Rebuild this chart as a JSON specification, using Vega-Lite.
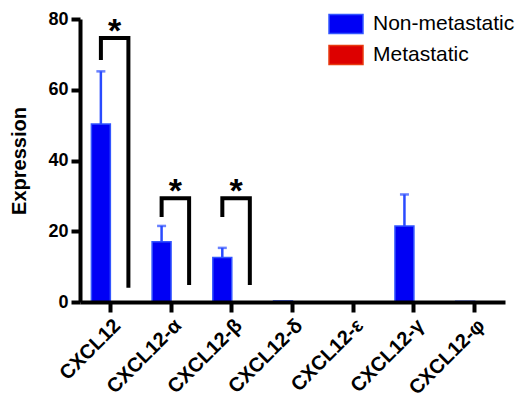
{
  "$schema": "https://vega.github.io/schema/vega-lite/v6.json",
  "width": 425,
  "height": 283,
  "autosize": {"type": "none"},
  "padding": {"left": 80, "top": 19, "right": 25, "bottom": 96},
  "config": {"view": {"stroke": null}, "font": "Liberation Sans"},
  "datasets": {
    "bars": [
      {"gene": "CXCL12", "group": "Non-metastatic", "mean": 50.3, "upper": 65.2},
      {"gene": "CXCL12", "group": "Metastatic", "mean": 0, "upper": 0},
      {"gene": "CXCL12-α", "group": "Non-metastatic", "mean": 17.0, "upper": 21.5},
      {"gene": "CXCL12-α", "group": "Metastatic", "mean": 0, "upper": 0},
      {"gene": "CXCL12-β", "group": "Non-metastatic", "mean": 12.6, "upper": 15.3},
      {"gene": "CXCL12-β", "group": "Metastatic", "mean": 0, "upper": 0},
      {"gene": "CXCL12-δ", "group": "Non-metastatic", "mean": 0.3, "upper": 0.3},
      {"gene": "CXCL12-δ", "group": "Metastatic", "mean": 0, "upper": 0},
      {"gene": "CXCL12-ε", "group": "Non-metastatic", "mean": 0, "upper": 0},
      {"gene": "CXCL12-ε", "group": "Metastatic", "mean": 0, "upper": 0},
      {"gene": "CXCL12-γ", "group": "Non-metastatic", "mean": 21.5, "upper": 30.4},
      {"gene": "CXCL12-γ", "group": "Metastatic", "mean": 0, "upper": 0},
      {"gene": "CXCL12-φ", "group": "Non-metastatic", "mean": 0.2, "upper": 0.2},
      {"gene": "CXCL12-φ", "group": "Metastatic", "mean": 0, "upper": 0}
    ],
    "brackets": [
      {"gene": "CXCL12", "pos": "left", "y": 68.4, "k": 1},
      {"gene": "CXCL12", "pos": "left", "y": 74.6, "k": 2},
      {"gene": "CXCL12", "pos": "right", "y": 74.6, "k": 3},
      {"gene": "CXCL12", "pos": "right", "y": 4, "k": 4},
      {"gene": "CXCL12-α", "pos": "left", "y": 24, "k": 1},
      {"gene": "CXCL12-α", "pos": "left", "y": 29.3, "k": 2},
      {"gene": "CXCL12-α", "pos": "right", "y": 29.3, "k": 3},
      {"gene": "CXCL12-α", "pos": "right", "y": 4.8, "k": 4},
      {"gene": "CXCL12-β", "pos": "left", "y": 24, "k": 1},
      {"gene": "CXCL12-β", "pos": "left", "y": 29.3, "k": 2},
      {"gene": "CXCL12-β", "pos": "right", "y": 29.3, "k": 3},
      {"gene": "CXCL12-β", "pos": "right", "y": 4.8, "k": 4}
    ],
    "stars": [
      {"gene": "CXCL12", "pos": "mid", "y": 74.6, "label": "*"},
      {"gene": "CXCL12-α", "pos": "mid", "y": 29.3, "label": "*"},
      {"gene": "CXCL12-β", "pos": "mid", "y": 29.3, "label": "*"}
    ]
  },
  "layer": [
    {
      "data": {"name": "bars"},
      "mark": {"type": "bar", "strokeWidth": 1.5},
      "encoding": {
        "x": {
          "field": "gene", "type": "nominal",
          "sort": ["CXCL12", "CXCL12-α", "CXCL12-β", "CXCL12-δ", "CXCL12-ε", "CXCL12-γ", "CXCL12-φ"],
          "scale": {"paddingInner": 0, "paddingOuter": 0},
          "axis": {
            "title": null, "zindex": 1,
            "domainColor": "black", "domainWidth": 4,
            "tickColor": "black", "tickWidth": 4, "tickSize": 10,
            "labelAngle": -45, "labelAlign": "right", "labelBaseline": "top",
            "labelFont": "Liberation Sans", "labelFontWeight": "bold", "labelFontSize": 20,
            "labelColor": "black", "labelPadding": 3
          }
        },
        "xOffset": {
          "field": "group", "type": "nominal",
          "scale": {"domain": ["Non-metastatic", "Metastatic"], "paddingInner": 0, "paddingOuter": 0.6}
        },
        "y": {
          "field": "mean", "type": "quantitative",
          "scale": {"domain": [0, 80], "nice": false},
          "axis": {
            "title": "Expression", "zindex": 1, "grid": false,
            "values": [0, 20, 40, 60, 80],
            "domainColor": "black", "domainWidth": 4,
            "tickColor": "black", "tickWidth": 4, "tickSize": 9,
            "labelFont": "Liberation Sans", "labelFontWeight": "bold", "labelFontSize": 18,
            "labelColor": "black", "labelPadding": 3,
            "titleFont": "Liberation Sans", "titleFontWeight": "bold", "titleFontSize": 20,
            "titleColor": "black", "titlePadding": 18
          }
        },
        "fill": {
          "field": "group", "type": "nominal",
          "scale": {"domain": ["Non-metastatic", "Metastatic"], "range": ["#0000f5", "#dd0000"]},
          "legend": {
            "title": null, "orient": "none", "legendX": 248, "legendY": -13,
            "symbolType": "M-1,-0.56L1,-0.56L1,0.56L-1,0.56Z", "symbolSize": 1156,
            "symbolStrokeWidth": 1.5, "labelFont": "Liberation Sans", "labelFontSize": 21,
            "labelColor": "black", "labelOffset": 9, "rowPadding": 0
          }
        },
        "stroke": {
          "field": "group", "type": "nominal",
          "scale": {"domain": ["Non-metastatic", "Metastatic"], "range": ["#3355ff", "#e83a10"]},
          "legend": {
            "title": null, "orient": "none", "legendX": 248, "legendY": -13,
            "symbolType": "M-1,-0.56L1,-0.56L1,0.56L-1,0.56Z", "symbolSize": 1156,
            "symbolStrokeWidth": 1.5, "labelFont": "Liberation Sans", "labelFontSize": 21,
            "labelColor": "black", "labelOffset": 9, "rowPadding": 0
          }
        }
      }
    },
    {
      "data": {"name": "bars"},
      "transform": [{"filter": "datum.upper > datum.mean"}],
      "mark": {"type": "rule", "color": "#2a4bff", "strokeWidth": 2.5},
      "encoding": {
        "x": {"field": "gene", "type": "nominal", "sort": ["CXCL12", "CXCL12-α", "CXCL12-β", "CXCL12-δ", "CXCL12-ε", "CXCL12-γ", "CXCL12-φ"]},
        "xOffset": {"field": "group", "type": "nominal", "scale": {"domain": ["Non-metastatic", "Metastatic"], "paddingInner": 0, "paddingOuter": 0.6}},
        "y": {"field": "mean", "type": "quantitative"},
        "y2": {"field": "upper"}
      }
    },
    {
      "data": {"name": "bars"},
      "transform": [{"filter": "datum.upper > datum.mean"}],
      "mark": {"type": "tick", "color": "#2a4bff", "size": 9, "thickness": 2.5, "orient": "horizontal"},
      "encoding": {
        "x": {"field": "gene", "type": "nominal", "sort": ["CXCL12", "CXCL12-α", "CXCL12-β", "CXCL12-δ", "CXCL12-ε", "CXCL12-γ", "CXCL12-φ"]},
        "xOffset": {"field": "group", "type": "nominal", "scale": {"domain": ["Non-metastatic", "Metastatic"], "paddingInner": 0, "paddingOuter": 0.6}},
        "y": {"field": "upper", "type": "quantitative"}
      }
    },
    {
      "data": {"name": "brackets"},
      "mark": {"type": "line", "color": "black", "strokeWidth": 4, "strokeJoin": "miter", "strokeCap": "butt"},
      "encoding": {
        "x": {"field": "gene", "type": "nominal", "sort": ["CXCL12", "CXCL12-α", "CXCL12-β", "CXCL12-δ", "CXCL12-ε", "CXCL12-γ", "CXCL12-φ"]},
        "xOffset": {"field": "pos", "type": "nominal", "scale": {"type": "point", "domain": ["left", "mid", "right"], "range": [20.9, 48.4], "padding": 0}},
        "y": {"field": "y", "type": "quantitative"},
        "order": {"field": "k", "type": "quantitative"},
        "detail": {"field": "gene", "type": "nominal"}
      }
    },
    {
      "data": {"name": "stars"},
      "mark": {"type": "text", "color": "black", "font": "Liberation Sans", "fontWeight": "bold", "fontSize": 34, "baseline": "alphabetic", "align": "center", "dy": 4},
      "encoding": {
        "x": {"field": "gene", "type": "nominal", "sort": ["CXCL12", "CXCL12-α", "CXCL12-β", "CXCL12-δ", "CXCL12-ε", "CXCL12-γ", "CXCL12-φ"]},
        "xOffset": {"field": "pos", "type": "nominal", "scale": {"type": "point", "domain": ["left", "mid", "right"], "range": [20.9, 48.4], "padding": 0}},
        "y": {"field": "y", "type": "quantitative"},
        "text": {"field": "label"}
      }
    }
  ],
  "resolve": {"scale": {"xOffset": "independent"}}
}
